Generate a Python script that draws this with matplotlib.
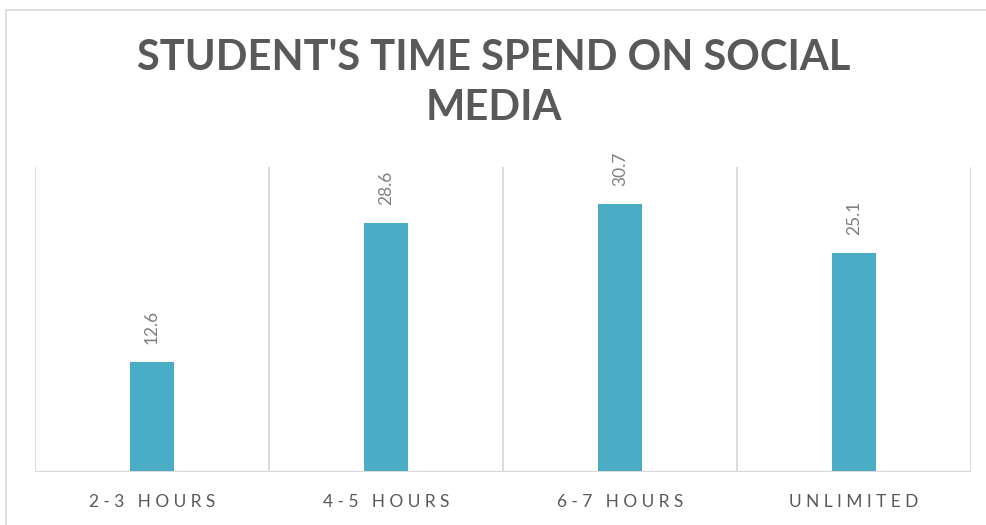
import matplotlib
matplotlib.use("Agg")
import matplotlib.pyplot as plt
import numpy as np
from matplotlib.patches import Rectangle

# time spent on social media, per group
categories = ["2-3 HOURS", "4-5 HOURS", "6-7 HOURS", "UNLIMITED"]
values = [12.6, 28.6, 30.7, 25.1]

bar_color = "#4BACC6"
grid_color = "#D9D9D9"
text_color = "#595959"
label_color = "#7F7F7F"

fam = ["Lato", "DejaVu Sans"]


def spaced(s, sep="\u2005"):
    return sep.join(s)


fig = plt.figure(figsize=(9.87, 5.25), dpi=100)
# chart frame
fig.patches.append(Rectangle((6 / 987, -0.1), 1.2, 1.1 - 10 / 525,
                             transform=fig.transFigure, fill=False,
                             edgecolor=grid_color, linewidth=1.2))

ax = fig.add_axes([35 / 987, (525 - 472) / 525, (971 - 35) / 987, (472 - 167) / 525])

x = np.arange(len(categories))
ax.bar(x, values, width=0.185, color=bar_color, zorder=2)

ax.set_xlim(-0.5, len(categories) - 0.5)
ax.set_ylim(0, 35)

# vertical separators between groups
for b in np.arange(-0.5, len(categories), 1.0):
    ax.axvline(b, color=grid_color, linewidth=1.3, zorder=1)
ax.axhline(0, color=grid_color, linewidth=1.5, zorder=3)

for side in ax.spines.values():
    side.set_visible(False)
ax.set_yticks([])
ax.set_xticks(x)
ax.set_xticklabels([spaced(c) for c in categories], family=fam,
                   fontsize=12.5, color=text_color)
ax.tick_params(axis="x", length=0, pad=16)

for xi, v in zip(x, values):
    ax.annotate(f"{v}", (xi, v), xytext=(0, 13), textcoords="offset points",
                rotation=90, ha="center", va="bottom", fontsize=12.5,
                color=label_color, family=fam)

fig.text(0.5, 1 - 58 / 525, "STUDENT'S TIME SPEND ON SOCIAL", ha="center",
         va="center", fontsize=30, fontweight="bold", color=text_color, family=fam)
fig.text(0.5, 1 - 108 / 525, "MEDIA", ha="center", va="center", fontsize=30,
         fontweight="bold", color=text_color, family=fam)

fig.savefig("out.png", dpi=100)
